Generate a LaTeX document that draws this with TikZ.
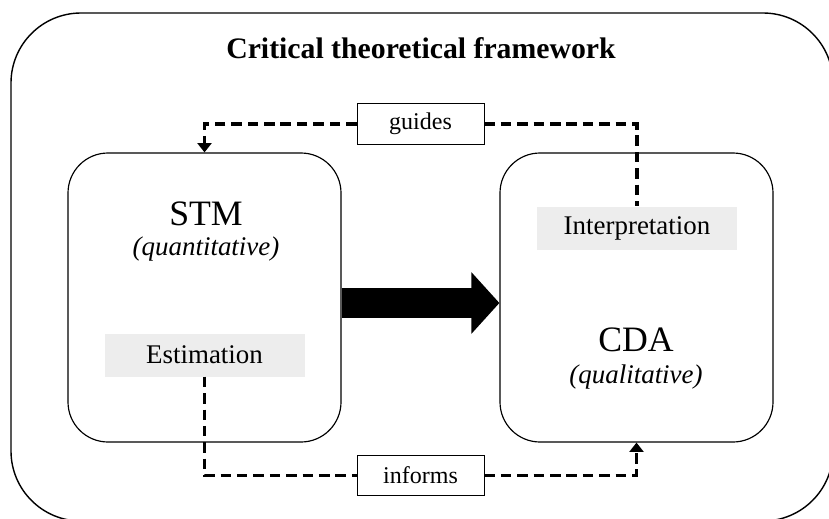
\documentclass[tikz,border=0pt]{standalone}
\usepackage{fontspec}
\setmainfont{Liberation Serif}
\usetikzlibrary{arrows.meta,positioning}
\tikzstyle{every node}=[font=\fontsize{23}{27}\selectfont]

\begin{document}
\begin{tikzpicture}[
            x=0.3mm,y=-0.3mm,
            bigbox/.style={draw,line width=1pt,rounded corners=12mm,minimum width=81.9mm,minimum height=86.7mm},
            graybox/.style={fill=black!7,minimum width=60mm,minimum height=12.9mm,inner sep=0pt},
            labelbox/.style={draw,fill=white,line width=0.8pt,minimum width=38.1mm,minimum height=12.1mm,inner sep=0pt,font=\fontsize{20.5}{24}\selectfont},
            link/.style={line width=3pt,dash pattern=on 9pt off 5pt},
            tip/.style={-{Triangle[length=8pt,width=12pt]}}]
        \clip (0,0) rectangle (829,519);
        % outer frame
        \draw[line width=1.2pt,rounded corners=21mm] (11,13) rectangle (833,521);
        \node[font=\bfseries\fontsize{25.4}{30}\selectfont] (title) at (421,48) {Critical theoretical framework};
        % the two methods
        \node[bigbox] (stm) at (204.5,297.5) {};
        \node[bigbox] (cda) at (636.5,297.5) {};
        \node[font=\fontsize{30.5}{36}\selectfont] (stmname) at (206,214) {STM};
        \node[font=\itshape\fontsize{23}{27}\selectfont] (stmkind) at (206,249) {(quantitative)};
        \node[font=\fontsize{30.5}{36}\selectfont] (cdaname) at (636,340) {CDA};
        \node[font=\itshape\fontsize{23}{27}\selectfont] (cdakind) at (636,377) {(qualitative)};
        \node[graybox] (estim) at (204.5,355) {Estimation};
        \node[graybox] (interp) at (637,228) {Interpretation};
        % big arrow between boxes
        \draw[line width=9mm,-{Triangle[length=8.4mm,width=18mm]}] (stm.east |- 0,303) -- (cda.west |- 0,303);
        % feedback links
        \node[labelbox] (guides) at (420.5,124) {guides};
        \node[labelbox] (informs) at (420.5,475.5) {informs};
        \draw[link,tip] (guides.west) -| (stm.north);
        \draw[link] (guides.east) -| (interp.north);
        \draw[link] (estim.south) |- (informs.west);
        \draw[link,tip] (informs.east) -| (cda.south);
\end{tikzpicture}
\end{document}
